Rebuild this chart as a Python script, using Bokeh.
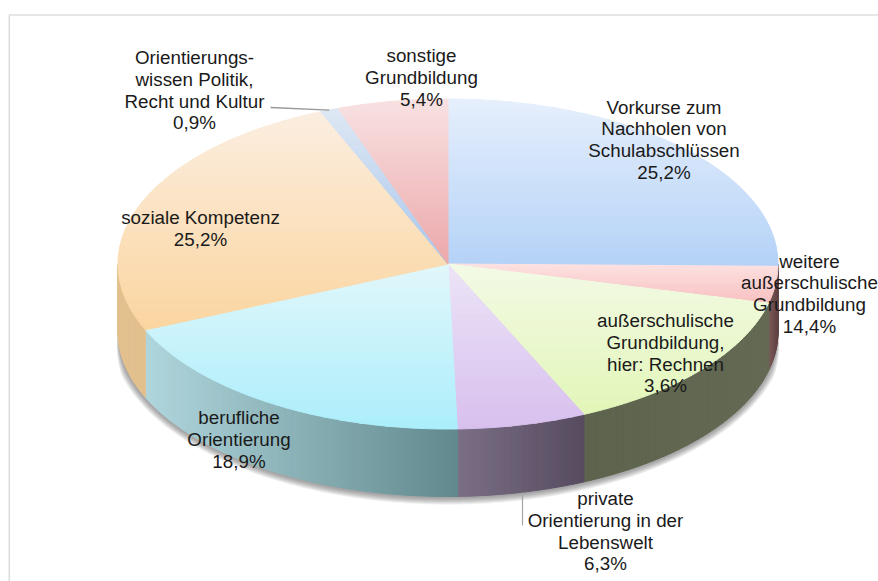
import math
from bokeh.plotting import figure
from bokeh.embed import file_html
from bokeh.resources import INLINE
from bokeh.core.properties import value

# ---- data -------------------------------------------------------------
slice_values = [25.2, 3.6, 14.4, 6.3, 18.9, 25.2, 0.9, 5.4]
label_lines = [
    ["Vorkurse zum", "Nachholen von", "Schulabschlüssen", "25,2%"],
    ["weitere", "außerschulische", "Grundbildung", "14,4%"],
    ["außerschulische", "Grundbildung,", "hier: Rechnen", "3,6%"],
    ["private", "Orientierung in der", "Lebenswelt", "6,3%"],
    ["berufliche", "Orientierung", "18,9%"],
    ["soziale Kompetenz", "25,2%"],
    ["Orientierungs-", "wissen Politik,", "Recht und Kultur", "0,9%"],
    ["sonstige", "Grundbildung", "5,4%"],
]

# ---- styles / layout ---------------------------------------------------
W, H = 878, 581
CX, CY, RX, RY, DEPTH = 447.5, 263.5, 330, 165, 67.5
top_colors = [("#e6effc", "#b4d2f7"), ("#fde2e2", "#f8c0c0"), ("#f3fae6", "#e2f6b8"),
              ("#ece4f7", "#d8c0ee"), ("#e2f7fb", "#abeefb"), ("#fbeee0", "#fbd5a0"),
              ("#dfe8f4", "#a8c6ec"), ("#f8e2e3", "#eca8aa")]
side_colors = [("#6f7f95", "#6f7f95"), ("#7a5a58", "#5f3f40"), ("#5d634c", "#646a54"),
               ("#7b6f86", "#564b5f"), ("#b0d6dd", "#628a8d"), ("#e3c08e", "#e3c08e"),
               ("#8b9db5", "#8b9db5"), ("#9c7070", "#9c7070")]
label_centers = [(663.5, 106.5), (809, 260.5), (665, 320), (605, 498), (238.5, 417), (200, 217), (194, 57), (421, 55)]
LINE_H = 21.8
FONT_PX = "18.8px"

p = figure(width=W, height=H, x_range=(0, W), y_range=(H, 0), output_backend="svg",
           toolbar_location=None, min_border=0)
p.axis.visible = False
p.grid.visible = False
p.outline_line_color = None
p.background_fill_color = "white"
p.border_fill_color = "white"


def hex2rgb(c):
    return tuple(int(c[i:i + 2], 16) for i in (1, 3, 5))


def mix(a, b, t):
    ra, rb = hex2rgb(a), hex2rgb(b)
    return "#%02x%02x%02x" % tuple(round(x + (y - x) * t) for x, y in zip(ra, rb))


def clip_band(poly, y0, y1):
    def clip(pts, inside, cross):
        out = []
        for i in range(len(pts)):
            a, b = pts[i - 1], pts[i]
            ia, ib = inside(a), inside(b)
            if ia != ib:
                out.append(cross(a, b))
            if ib:
                out.append(b)
        return out

    def cross_at(yv):
        return lambda a, b: (a[0] + (b[0] - a[0]) * (yv - a[1]) / (b[1] - a[1]), yv)

    r = clip(poly, lambda q: q[1] >= y0, cross_at(y0))
    if r:
        r = clip(r, lambda q: q[1] <= y1, cross_at(y1))
    return r


def pt(theta, dy=0.0, grow=0.0):
    return (CX + (RX + grow) * math.sin(theta), CY + dy - (RY + grow) * math.cos(theta))


# angles from the values
total = sum(slice_values)
bounds = [0.0]
for v in slice_values:
    bounds.append(bounds[-1] + v / total * 2 * math.pi)

# frame lines of the chart area
p.line(x=[8.5, W], y=[14.5, 14.5], line_color="#dedede", line_width=1.6)
p.line(x=[8.8, 8.8], y=[14.5, H], line_color="#dedede", line_width=1.6)

# soft shadow round the rim, fading out towards the upper ends
n = 200
A0, A1 = math.pi * 0.5, math.pi * 1.5
for g in (7, 6, 5, 4, 3, 2, 1):
    arc = [A0 + (A1 - A0) * i / n for i in range(n + 1)]
    outer = []
    for t in arc:
        fade = min(1.0, min(t - A0, A1 - t) / 0.25)
        outer.append(pt(t, DEPTH + 1.0, g * fade))
    inner = [pt(t, 0) for t in reversed(arc)]
    p.patch([c[0] for c in outer + inner], [c[1] for c in outer + inner],
            fill_color="#404040", fill_alpha=0.085, line_color=None)

# rim, coloured from left to right by x
sx, sy, sc = [], [], []
for k in range(len(slice_values)):
    a, b = max(bounds[k], math.pi / 2), min(bounds[k + 1], 3 * math.pi / 2)
    if b <= a:
        continue
    steps = max(2, int((b - a) / 0.012))
    xa, xb = pt(b)[0], pt(a)[0]
    for i in range(steps):
        t0 = a + (b - a) * i / steps
        t1 = a + (b - a) * (i + 1) / steps
        q = [pt(t0), pt(t1), pt(t1, DEPTH), pt(t0, DEPTH)]
        sx.append([c[0] for c in q])
        sy.append([c[1] for c in q])
        f = (0.5 * (q[0][0] + q[1][0]) - xa) / max(xb - xa, 1)
        sc.append(mix(side_colors[k][0], side_colors[k][1], f))
p.patches(sx, sy, fill_color=sc, line_color=sc, line_width=1.0)

# top faces, coloured from top to bottom by y
tx, ty, tc = [], [], []
for k in range(len(slice_values)):
    a, b = bounds[k], bounds[k + 1]
    steps = max(3, int((b - a) / 0.01))
    poly = [(CX, CY)] + [pt(a + (b - a) * i / steps) for i in range(steps + 1)]
    y0, y1 = min(q[1] for q in poly), max(q[1] for q in poly)
    bands = max(2, int((y1 - y0) / 3))
    for j in range(bands):
        ya = y0 + (y1 - y0) * j / bands
        yb = y0 + (y1 - y0) * (j + 1) / bands
        r = clip_band(poly, ya, yb)
        if len(r) >= 3:
            tx.append([c[0] for c in r])
            ty.append([c[1] for c in r])
            tc.append(mix(top_colors[k][0], top_colors[k][1], (j + 0.5) / bands))
p.patches(tx, ty, fill_color=tc, line_color=tc, line_width=1.0)

# leader lines
orient_theta = 0.5 * (bounds[6] + bounds[7])
op = pt(orient_theta)
p.line(x=[270, op[0]], y=[107, op[1]], line_color="#989898", line_width=1.3)
p.line(x=[522, 522], y=[492, 525], line_color="#a6a6a6", line_width=1.2)

# labels
tx_x, tx_y, tx_t = [], [], []
for lines, (lx, ly) in zip(label_lines, label_centers):
    for i, s in enumerate(lines):
        tx_x.append(lx)
        tx_y.append(ly + i * LINE_H)
        tx_t.append(s)
p.text(x=tx_x, y=tx_y, text=tx_t, text_align="center", text_baseline="middle",
       text_font=value("Liberation Sans"), text_font_size=FONT_PX, text_color="#1a1a1a")

open("out.html", "w").write(file_html(p, INLINE))
